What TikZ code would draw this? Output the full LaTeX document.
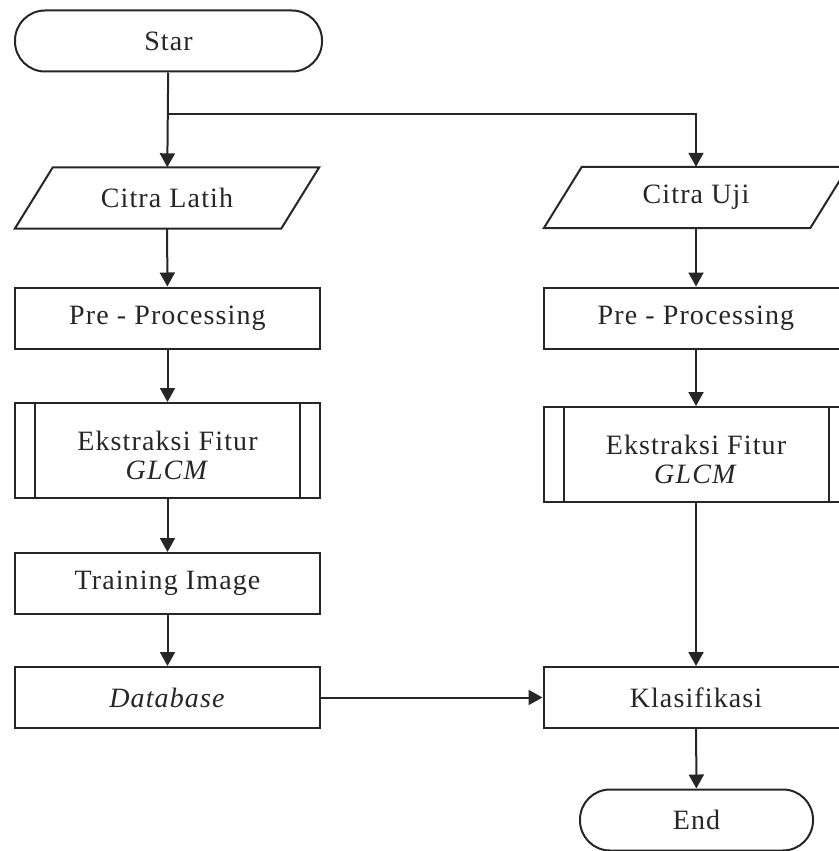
\documentclass[tikz,border=0pt]{standalone}
\usepackage{fontspec}
\setmainfont{Liberation Serif}[LetterSpace=4.0]
\usetikzlibrary{arrows.meta}
\begin{document}
\begin{tikzpicture}[x=1pt,y=-1pt,
  every node/.style={font=\fontsize{28}{29}\selectfont, text=black!85},
  line/.style={draw=black!85, line width=2pt},
  flow/.style={line, -{Triangle[length=14pt,width=15pt]}},
  terminal/.style={line, rounded corners=30pt, minimum width=#1, minimum height=61pt, inner sep=0pt},
  procbox/.style={line, minimum width=305pt, minimum height=61pt, inner sep=0pt},
  subproc/.style={line, minimum width=305pt, minimum height=95pt, inner sep=0pt},
  subtext/.style={align=center, inner sep=0pt, yshift=-5pt},
  iobox/.style={minimum width=266pt, minimum height=61pt, inner sep=0pt}
]
\useasboundingbox (0,0) rectangle (838,851);

% terminals
\node[terminal=307pt] (start) at (168.5,41) {Star};
\node[terminal=233pt] (end) at (696.5,820) {End};

% input blocks (parallelograms drawn around plain nodes)
\node[iobox] (cl) at (167,198) {Citra Latih};
\node[iobox] (cu) at (696,197.5) {Citra Uji};
\foreach \n in {cl,cu}{
  \draw[line] ([xshift=19pt]\n.north west) -- ([xshift=19pt]\n.north east)
    -- ([xshift=-19pt]\n.south east) -- ([xshift=-19pt]\n.south west) -- cycle;
}

% processes
\node[procbox] (ppl) at (167.5,318) {Pre - Processing};
\node[procbox] (ppr) at (696,318) {Pre - Processing};
\node[subproc] (efl) at (167.5,450.5) {};
\node[subproc] (efr) at (696,454.5) {};
\foreach \n in {efl,efr}{
  \draw[line] ([xshift=21pt]\n.north west) -- ([xshift=21pt]\n.south west);
  \draw[line] ([xshift=-21pt]\n.north east) -- ([xshift=-21pt]\n.south east);
  \node[subtext] (\n-text) at (\n) {Ekstraksi Fitur\\\textit{GLCM}};
}
\node[procbox] (tr) at (167.5,583.5) {Training Image};
\node[procbox] (db) at (167.5,697.5) {\textit{Database}};
\node[procbox] (kl) at (696,697.5) {Klasifikasi};

% connectors
\coordinate (split) at (start.south |- 0,114);
\draw[flow] (start) -- (cl);
\draw[flow] (split) -| (cu);
\draw[flow] (cl) -- (ppl);
\draw[flow] (ppl) -- (efl);
\draw[flow] (efl) -- (tr);
\draw[flow] (tr) -- (db);
\draw[flow] (db) -- (kl);
\draw[flow] (cu) -- (ppr);
\draw[flow] (ppr) -- (efr);
\draw[flow] (efr) -- (kl);
\draw[flow] (kl) -- (end);
\end{tikzpicture}
\end{document}
